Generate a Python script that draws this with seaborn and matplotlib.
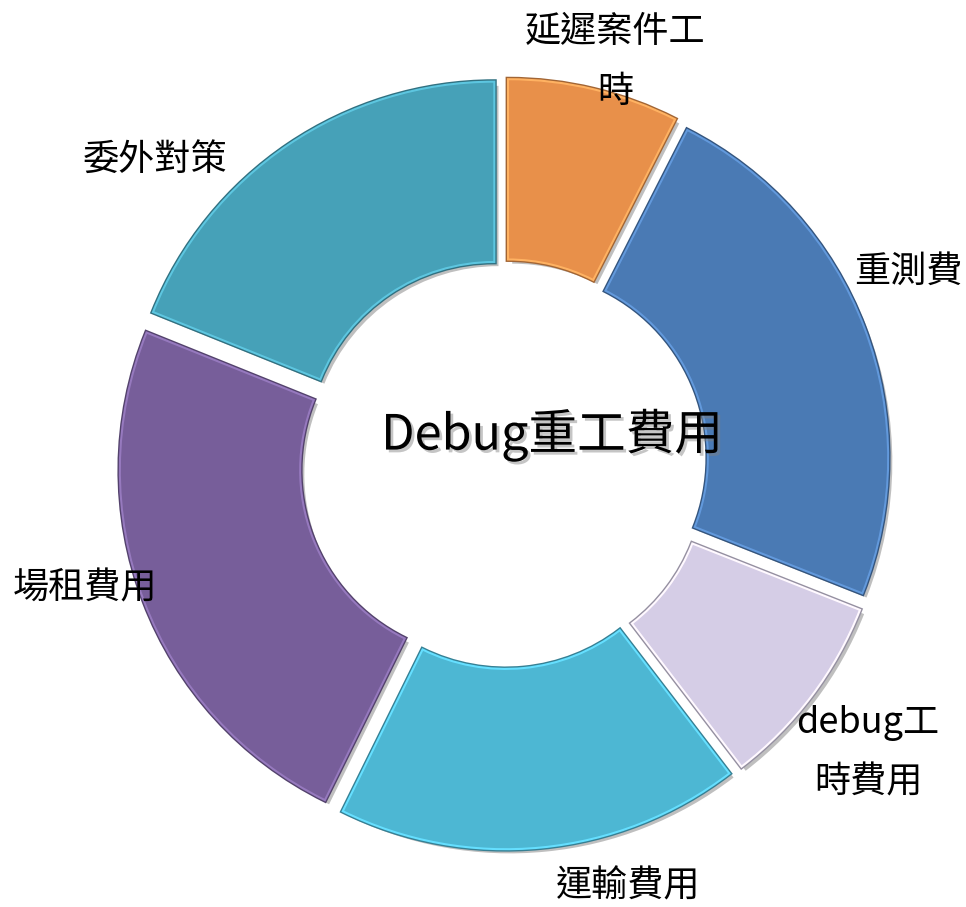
import matplotlib
matplotlib.use('Agg')
import matplotlib.pyplot as plt
import matplotlib.patheffects as pe
import matplotlib.colors as mcolors
import seaborn as sns

# 資料
categories = ['延遲案件工時', '重測費', 'debug工時費用', '運輸費用', '場租費用', '委外對策']
shares = [7.5, 23.5, 8.6, 17.7, 23.8, 18.9]
colors = ['#E8904A', '#4A7AB4', '#D5CDE6', '#4DB7D3', '#775E9A', '#46A1B8']
label_texts = ['延遲案件工\n時', '重測費', 'debug工\n時費用', '運輸費用', '場租費用', '委外對策']
title = 'Debug重工費用'

sns.set_style('white')
plt.rcParams['font.family'] = ['Noto Sans CJK TC', 'DejaVu Sans']

W, H = 966, 907
fig = plt.figure(figsize=(W / 100, H / 100), dpi=100)

# 圓心在像素 (504, 464)，外半徑約 368 px
cx, cy, r = 504, H - 464, 368
span = 1.4
side = 2 * span * r
ax = fig.add_axes([(cx - side / 2) / W, (cy - side / 2) / H, side / W, side / H])

wedges, _ = ax.pie(shares, colors=colors, startangle=90, counterclock=False,
                   explode=[0.047] * len(shares), radius=1.0,
                   wedgeprops=dict(width=0.49, linewidth=0))
# pie() 會重設座標範圍，所以之後再設定
ax.set_xlim(-span, span)
ax.set_ylim(-span, span)
ax.set_aspect('equal')
ax.axis('off')

for w, c in zip(wedges, colors):
    rgb = mcolors.to_rgb(c)
    dark = tuple(v * 0.7 for v in rgb)
    light = tuple(min(1, v * 1.15 + 0.05) for v in rgb)
    w.set_path_effects([
        pe.SimplePatchShadow(offset=(3, -3), shadow_rgbFace='black', alpha=0.25),
        pe.Stroke(linewidth=3.5, foreground=dark),
        pe.Normal(),
    ])
    w.set_edgecolor(light)
    w.set_linewidth(1.5)

# 標籤位置 (像素)
label_pos = [(615, 62), (908, 272), (868, 753), (628, 887), (85, 588), (155, 160)]
for txt, (px, py) in zip(label_texts, label_pos):
    fig.text(px / W, 1 - py / H, txt, ha='center', va='center', fontsize=26,
             linespacing=1.85, color='black')

fig.text(552 / W, 1 - 435 / H, title, ha='center', va='center', fontsize=35,
         color='black',
         path_effects=[pe.SimplePatchShadow(offset=(2, -2), shadow_rgbFace='gray', alpha=0.45),
                       pe.Normal()])

fig.savefig('out.png', dpi=100)
